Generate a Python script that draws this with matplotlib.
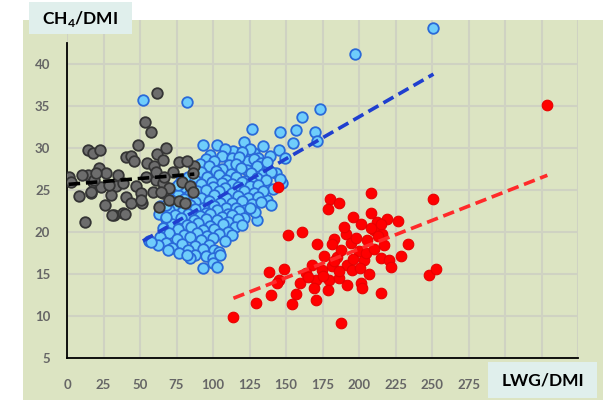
import matplotlib
matplotlib.use("Agg")
import matplotlib.pyplot as plt
import numpy as np
from matplotlib.patches import Rectangle

plt.rcParams['font.family'] = ['Lato', 'DejaVu Sans']
plt.rcParams['mathtext.fontset'] = 'custom'
plt.rcParams['mathtext.rm'] = 'Lato'
plt.rcParams['mathtext.bf'] = 'Lato:bold'

# (LWG/DMI, CH4/DMI)
gray_pts = [
    (1.1, 26.5), (8.4, 24.3), (12.5, 21.2), (14.6, 29.8), (17.6, 29.4), (22.8, 29.8),
    (14.6, 26.8), (22.1, 27.6), (26.7, 27.0), (34.7, 26.8), (17.6, 26.0), (23.3, 25.4),
    (33.6, 25.5), (47.3, 25.5), (54.1, 26.6), (61.0, 26.2), (65.5, 25.8), (72.4, 27.2),
    (58.7, 24.8), (65.5, 24.6), (16.4, 24.6), (30.1, 24.4), (40.4, 24.2), (50.7, 24.6),
    (70.1, 23.8), (76.9, 23.7), (26.2, 23.2), (43.8, 23.4), (51.4, 23.5), (32.4, 22.0),
    (38.1, 22.3), (39.9, 22.1), (61.6, 36.6), (53.6, 33.1), (57.5, 31.9), (48.4, 30.4),
    (40.4, 28.9), (43.8, 29.0), (45.7, 28.4), (61.6, 29.3), (67.8, 30.0), (65.5, 28.6),
    (54.8, 28.2), (59.8, 27.9), (76.9, 28.3), (87.2, 27.8), (31.0, 22.0), (50.6, 23.8),
    (63.1, 23.0), (82.5, 28.4), (29.0, 25.6), (60.9, 27.2), (66.6, 26.6), (79.0, 26.0),
    (84.0, 25.5), (86.0, 24.8), (81.0, 23.5), (70.0, 25.2), (18.7, 26.2), (38.1, 25.8),
    (64.3, 24.8), (3.0, 25.9), (16.4, 24.8), (20.0, 27.0), (10.0, 26.8), (86.0, 27.0),
]

blue_pts = [
    (251, 44.3), (197, 41.2), (52, 35.7), (82, 35.5), (173, 34.6), (161, 33.7),
    (127, 32.3), (157, 32.2), (146, 31.9), (170, 31.9), (171, 30.8), (93, 30.4),
    (121, 30.7), (155, 30.6), (145, 29.8), (134, 30.2), (128, 29.4), (139, 29.0),
    (131, 28.8), (117, 29.4), (137, 27.6), (143, 27.0), (136, 25.4), (137, 23.8),
    (140, 23.2), (130, 21.4), (149, 28.8), (147, 25.8),
    (103, 30.4), (114, 29.6), (125, 29.9), (98, 29.2), (108, 29.9), (120, 29.5),
    (95, 28.7), (106, 29.1), (113, 28.8), (124, 28.5), (91, 28.1), (101, 28.4),
    (111, 28.0), (118, 28.9), (128, 28.7), (133, 28.2),
    (87, 27.7), (97, 27.9), (106, 27.5), (116, 28.1), (123, 27.4), (130, 27.8),
    (137, 28.3), (92, 27.1), (102, 27.3), (112, 26.9), (119, 27.6), (126, 27.0), (134, 26.9),
    (83, 26.6), (96, 26.5), (104, 26.8), (109, 26.2), (116, 26.5), (122, 26.1),
    (130, 26.4), (140, 27.1), (78, 26.1), (88, 26.2), (99, 25.9), (106, 25.8),
    (113, 25.7), (120, 26.0), (127, 25.9), (136, 26.2), (146, 26.3),
    (85, 25.5), (92, 25.7), (100, 25.4), (108, 25.2), (117, 25.3), (125, 25.5),
    (131, 25.6), (141, 25.1), (73, 25.2), (80, 25.4), (89, 24.9), (95, 25.0),
    (104, 24.9), (113, 24.7), (121, 24.9), (128, 24.6), (134, 24.9),
    (68, 24.6), (76, 24.4), (84, 24.5), (92, 24.1), (101, 24.4), (109, 24.0),
    (117, 24.3), (124, 24.0), (131, 24.2), (71, 23.8), (80, 23.9), (88, 23.6),
    (97, 23.7), (105, 23.5), (113, 23.4), (120, 23.7), (127, 23.3), (133, 23.6),
    (64, 23.1), (75, 23.0), (84, 23.2), (93, 22.9), (101, 23.1), (109, 22.8),
    (116, 22.9), (122, 22.6), (129, 22.4), (70, 22.6), (79, 22.4), (88, 22.7),
    (95, 22.3), (103, 22.6), (110, 22.2), (118, 22.5), (125, 22.8),
    (63, 22.1), (74, 22.0), (83, 22.2), (91, 21.9), (98, 22.1), (106, 21.8),
    (113, 22.0), (121, 21.7), (68, 21.5), (78, 21.7), (87, 21.4), (95, 21.6),
    (103, 21.4), (110, 21.2), (117, 21.5),
    (72, 21.0), (82, 20.8), (90, 21.1), (98, 20.7), (107, 20.9), (115, 20.6),
    (66, 20.5), (76, 20.3), (85, 20.6), (93, 20.2), (101, 20.4), (110, 20.0), (120, 20.8),
    (70, 19.9), (80, 19.7), (89, 19.9), (96, 19.5), (104, 19.8), (113, 19.6),
    (64, 19.4), (75, 19.2), (84, 19.4), (92, 19.0), (100, 19.3), (108, 18.9),
    (68, 18.7), (79, 18.6), (88, 18.3), (97, 18.5), (56, 18.9), (62, 18.4),
    (72, 18.1), (83, 17.9), (93, 18.0), (101, 17.8), (77, 17.5), (88, 17.3),
    (104, 17.6), (69, 17.8), (84, 16.9), (95, 17.1), (82, 17.3), (100, 16.9),
    (105, 17.3), (100, 16.3), (93, 15.7), (103, 15.8),
    (68, 23.2), (68, 21.8), (57.5, 18.8), (76, 25.6),
]

red_pts = [
    (144.5, 25.3), (207.9, 24.7), (250.6, 23.9), (180.1, 23.9), (186.3, 23.4), (179.0, 22.7),
    (195.9, 21.8), (201.1, 20.9), (212.5, 21.2), (219.3, 21.5), (226.6, 21.3), (210.2, 20.2),
    (215.9, 19.8), (151.4, 19.6), (160.7, 20.0), (191.3, 19.8), (182.8, 19.2), (181.7, 18.6),
    (171.0, 18.6), (194.3, 18.7), (205.7, 19.0), (217.0, 18.5), (233.7, 18.6), (200.0, 17.7),
    (185.1, 17.0), (214.8, 16.9), (220.5, 16.7), (229.1, 17.1), (168.0, 16.1), (192.0, 16.1),
    (203.4, 16.7), (195.4, 15.5), (200.6, 15.7), (174.9, 15.5), (181.7, 15.9), (163.5, 15.1),
    (148.6, 15.6), (138.4, 15.2), (145.2, 14.3), (159.6, 13.9), (170.3, 14.3), (179.4, 14.3),
    (186.3, 14.5), (192.0, 13.7), (201.1, 13.9), (202.2, 13.3), (179.0, 13.1), (169.2, 13.3),
    (156.6, 12.6), (139.5, 12.5), (170.3, 11.9), (154.4, 11.4), (129.3, 11.6), (214.8, 12.7),
    (114.0, 9.9), (187.4, 9.2), (247.8, 14.9), (252.4, 15.6), (144.1, 13.9), (329.0, 35.1),
    (208.0, 20.5), (213.0, 19.5), (198.0, 19.3), (205.0, 17.5), (210.0, 18.0), (188.0, 17.8),
    (176.0, 17.2), (196.0, 16.8), (186.0, 15.3), (175.0, 14.8), (208.0, 22.3), (215.0, 21.0),
    (190.0, 20.6), (165.0, 14.6), (183.0, 16.5), (222.0, 15.8), (207.0, 15.0),
]

x_ticks = [0, 25, 50, 75, 100, 125, 150, 175, 200, 225, 250, 275]
y_ticks = [5, 10, 15, 20, 25, 30, 35, 40]

bg = '#dce4c2'
box = '#e0efec'

fig = plt.figure(figsize=(6.1, 4), dpi=100)
fig.patch.set_facecolor('white')
fig.add_artist(Rectangle((23 / 610, 0), 580 / 610, 380 / 400, transform=fig.transFigure,
                         facecolor=bg, edgecolor='none', zorder=-5))

ax = fig.add_axes([67 / 610, 1 - 358 / 400, (578 - 67) / 610, (358 - 19.5) / 400])
ax.set_facecolor(bg)
ax.set_xlim(0, 350)
ax.set_ylim(5, 45.3)
ax.set_xticks(x_ticks)
ax.set_yticks(y_ticks)
ax.set_xticks([300, 325, 350], minor=True)
ax.grid(True, which='both', color='#cfd2c2', lw=1.5)
ax.set_axisbelow(True)
ax.tick_params(length=0, which='both')
ax.tick_params(axis='x', pad=15)
ax.tick_params(axis='y', pad=12)
for lab in ax.get_xticklabels() + ax.get_yticklabels():
    lab.set_fontsize(9.5)
    lab.set_fontweight('bold')
    lab.set_color('#666666')
for s in ['top', 'right']:
    ax.spines[s].set_visible(False)
ax.spines['left'].set_bounds(5, 42.5)
ax.spines['left'].set_linewidth(1.3)
ax.spines['bottom'].set_linewidth(1.3)


def trend(x, y, color, z):
    coef = np.polyfit(x, y, 1)
    xs = np.array([x.min(), x.max()])
    ax.plot(xs, np.polyval(coef, xs), color=color, lw=2.6, ls=(0, (3.2, 1.6)), zorder=z)


gx, gy = np.array(gray_pts).T
bx, by = np.array(blue_pts).T
rx, ry = np.array(red_pts).T

ax.scatter(bx, by, s=58, facecolor='#6fcdfb', edgecolor='#2a6ad8', lw=1.3, zorder=3, clip_on=False)
trend(bx, by, '#1f3fcf', 4)
ax.scatter(gx, gy, s=58, facecolor='#6d6d6d', edgecolor='#353535', lw=1.3, zorder=5)
trend(gx, gy, 'black', 6)
ax.scatter(rx, ry, s=58, facecolor='#ff0000', edgecolor='#e80000', lw=0.8, zorder=6)
trend(rx, ry, '#ff2a2a', 7)

fig.add_artist(Rectangle((29 / 610, 1 - 34 / 400), 103 / 610, 32 / 400, transform=fig.transFigure,
                         facecolor=box, edgecolor='none', zorder=10))
fig.text(80 / 610, 1 - 19 / 400, r'CH$_{\mathbf{4}}$/DMI', ha='center', va='center',
         fontsize=12.5, fontweight='bold', zorder=11)
fig.add_artist(Rectangle((488 / 610, 1 - 398 / 400), 109 / 610, 36 / 400, transform=fig.transFigure,
                         facecolor=box, edgecolor='none', zorder=10))
fig.text(543 / 610, 1 - 381 / 400, 'LWG/DMI', ha='center', va='center',
         fontsize=12.5, fontweight='bold', zorder=11)

fig.savefig('out.png', dpi=100)
